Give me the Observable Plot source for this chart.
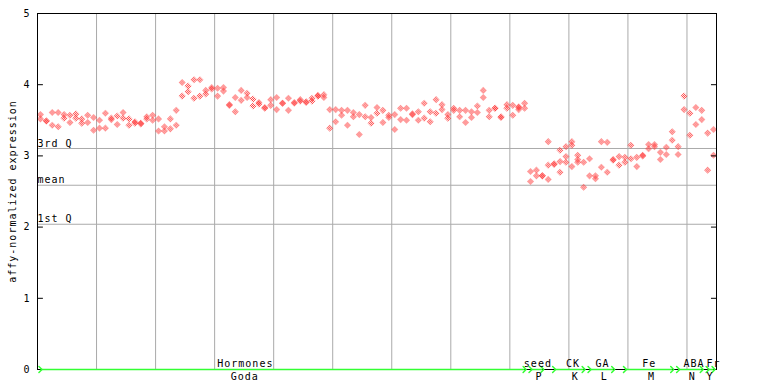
<!DOCTYPE html>
<html><head><meta charset="utf-8">
<script src="https://cdn.jsdelivr.net/npm/d3@7"></script>
<script src="https://cdn.jsdelivr.net/npm/@observablehq/plot@0.6"></script>
<style>body{margin:0;background:#fff}</style>
</head><body><div id="chart"></div>
<script>
// replicate 1 values, one per sample (115 samples)
const rep1 = [
  3.58,3.49,3.61,3.61,3.58,3.57,3.59,3.52,3.57,3.54,
  3.50,3.60,3.53,3.56,3.61,3.52,3.48,3.46,3.55,3.57,
  3.52,3.41,3.52,3.64,4.03,3.98,4.07,4.07,3.92,3.96,
  3.95,3.96,3.72,3.82,3.92,3.88,3.80,3.75,3.68,3.79,
  3.82,3.74,3.81,3.75,3.79,3.76,3.81,3.85,3.86,3.65,
  3.65,3.64,3.64,3.61,3.58,3.71,3.54,3.68,3.64,3.57,
  3.58,3.67,3.67,3.59,3.62,3.74,3.62,3.79,3.72,3.58,
  3.67,3.64,3.64,3.62,3.70,3.92,3.64,3.67,3.55,3.72,
  3.71,3.69,3.74,2.78,2.80,2.72,3.20,2.89,3.08,3.13,
  3.20,3.01,2.91,2.96,2.72,3.20,3.19,2.95,2.99,2.98,
  3.15,2.98,3.01,3.16,3.16,3.05,3.12,3.34,3.13,3.84,
  3.60,3.68,3.64,3.32,3.37
];
// replicate 2 values
const rep2 = [
  3.52,3.49,3.43,3.41,3.53,3.47,3.53,3.46,3.47,3.36,
  3.39,3.39,3.51,3.44,3.53,3.43,3.46,3.45,3.52,3.50,
  3.35,3.35,3.38,3.43,3.84,3.90,3.81,3.84,3.87,3.94,
  3.84,3.91,3.71,3.62,3.78,3.82,3.70,3.73,3.67,3.71,
  3.65,3.74,3.64,3.74,3.77,3.75,3.77,3.84,3.82,3.39,
  3.48,3.57,3.43,3.55,3.30,3.55,3.46,3.60,3.47,3.54,
  3.37,3.51,3.50,3.58,3.50,3.53,3.48,3.60,3.65,3.53,
  3.64,3.55,3.47,3.54,3.61,3.82,3.55,3.67,3.54,3.67,
  3.57,3.65,3.67,2.64,2.72,2.72,2.87,2.88,2.92,2.99,
  3.15,2.95,2.56,2.72,2.68,2.84,2.77,2.94,2.87,2.91,
  2.96,2.85,3.00,3.10,3.13,2.95,3.02,3.22,3.02,3.65,
  3.29,3.44,3.51,2.80,3.01
];
// third replicate where present
const rep3Index = [81, 86, 88, 89, 90, 91];
const rep3Value = [3.68, 2.67, 2.77, 2.91, 2.85, 2.91];

const sampleCount = 115;
const gridX = [10, 20, 30, 40, 50, 60, 70, 80, 90, 100, 110];
const yTicks = [0, 1, 2, 3, 4, 5];

const qLabels = ["3rd Q", "mean", "1st Q"];
const qValues = [3.104, 2.588, 2.04];

const groupNames = ["Hormones", "seed", "CK", "GA", "Fe", "ABA", "Fr"];
const groupSubs  = ["Goda", "P", "K", "L", "M", "N", "Y"];
const groupFirst = [0, 83, 87, 93, 99, 108, 113];
const groupLast  = [82, 85, 92, 97, 107, 112, 114];
const groupLabelPos = [35.2, 84.75, 90.7, 95.7, 103.6, 111.2, 114.5];
const groupSubPos   = [35.1, 84.95, 91.1, 96.0, 104.0, 110.9, 113.9];

const points = [];
rep1.forEach((v, i) => points.push({i, v}));
rep2.forEach((v, i) => points.push({i, v}));
rep3Index.forEach((i, k) => points.push({i, v: rep3Value[k]}));

const groups = groupNames.map((name, k) => ({
  name, sub: groupSubs[k], first: groupFirst[k], last: groupLast[k],
  labelPos: groupLabelPos[k], subPos: groupSubPos[k]
}));
const quart = qLabels.map((label, k) => ({label, value: qValues[k]}));

const chart = Plot.plot({
  width: 768, height: 384,
  marginLeft: 37, marginRight: 52, marginTop: 13, marginBottom: 15,
  style: {fontFamily: "'DejaVu Sans Mono', monospace", fontSize: "10px", background: "white", color: "black", letterSpacing: "1px"},
  x: {domain: [0, sampleCount], axis: null},
  y: {domain: [0, 5], ticks: 5, tickSize: 0, tickPadding: 7, label: null},
  marks: [
    Plot.ruleX(gridX, {stroke: "#aaaaaa", strokeOpacity: 1}),
    Plot.ruleY(quart, {y: "value", stroke: "#aaaaaa", strokeOpacity: 1}),
    Plot.dot(points, {x: d => d.i + 0.5, y: "v", symbol: "diamond2", r: 3.2, fill: "url(#chk)", stroke: "none"}),
    Plot.ruleY(yTicks, {x1: 0, x2: 1, stroke: "black"}),
    Plot.ruleY(yTicks, {x1: sampleCount - 0.85, x2: sampleCount, stroke: "black"}),
    Plot.frame({stroke: "black"}),
    Plot.link(groups, {x1: d => d.first + 0.5, x2: d => d.last + 0.5, y1: 0, y2: 0,
      stroke: "#33ff33", strokeWidth: 1.5, markerStart: "arrow", markerEnd: "arrow"}),
    Plot.text(groups, {x: "labelPos", y: 0, dy: -6, text: "name", fill: "black"}),
    Plot.text(groups, {x: "subPos", y: 0, dy: 7, text: "sub", fill: "black"}),
    Plot.text(quart, {x: 0, y: "value", text: "label", textAnchor: "start", dy: -5, fill: "black"}),
    Plot.text(["affy-normalized expression"], {frameAnchor: "left", textAnchor: "middle", rotate: -90, dx: -25, text: d => d, fill: "black"})
  ]
});

const defs = document.createElementNS("http://www.w3.org/2000/svg", "defs");
defs.innerHTML = '<pattern id="chk" patternUnits="userSpaceOnUse" width="2" height="2">' +
  '<rect x="0" y="0" width="1" height="1" fill="#ff3838"/><rect x="1" y="1" width="1" height="1" fill="#ff3838"/></pattern>';
chart.insertBefore(defs, chart.firstChild);
document.getElementById("chart").appendChild(chart);
</script>
</body></html>
